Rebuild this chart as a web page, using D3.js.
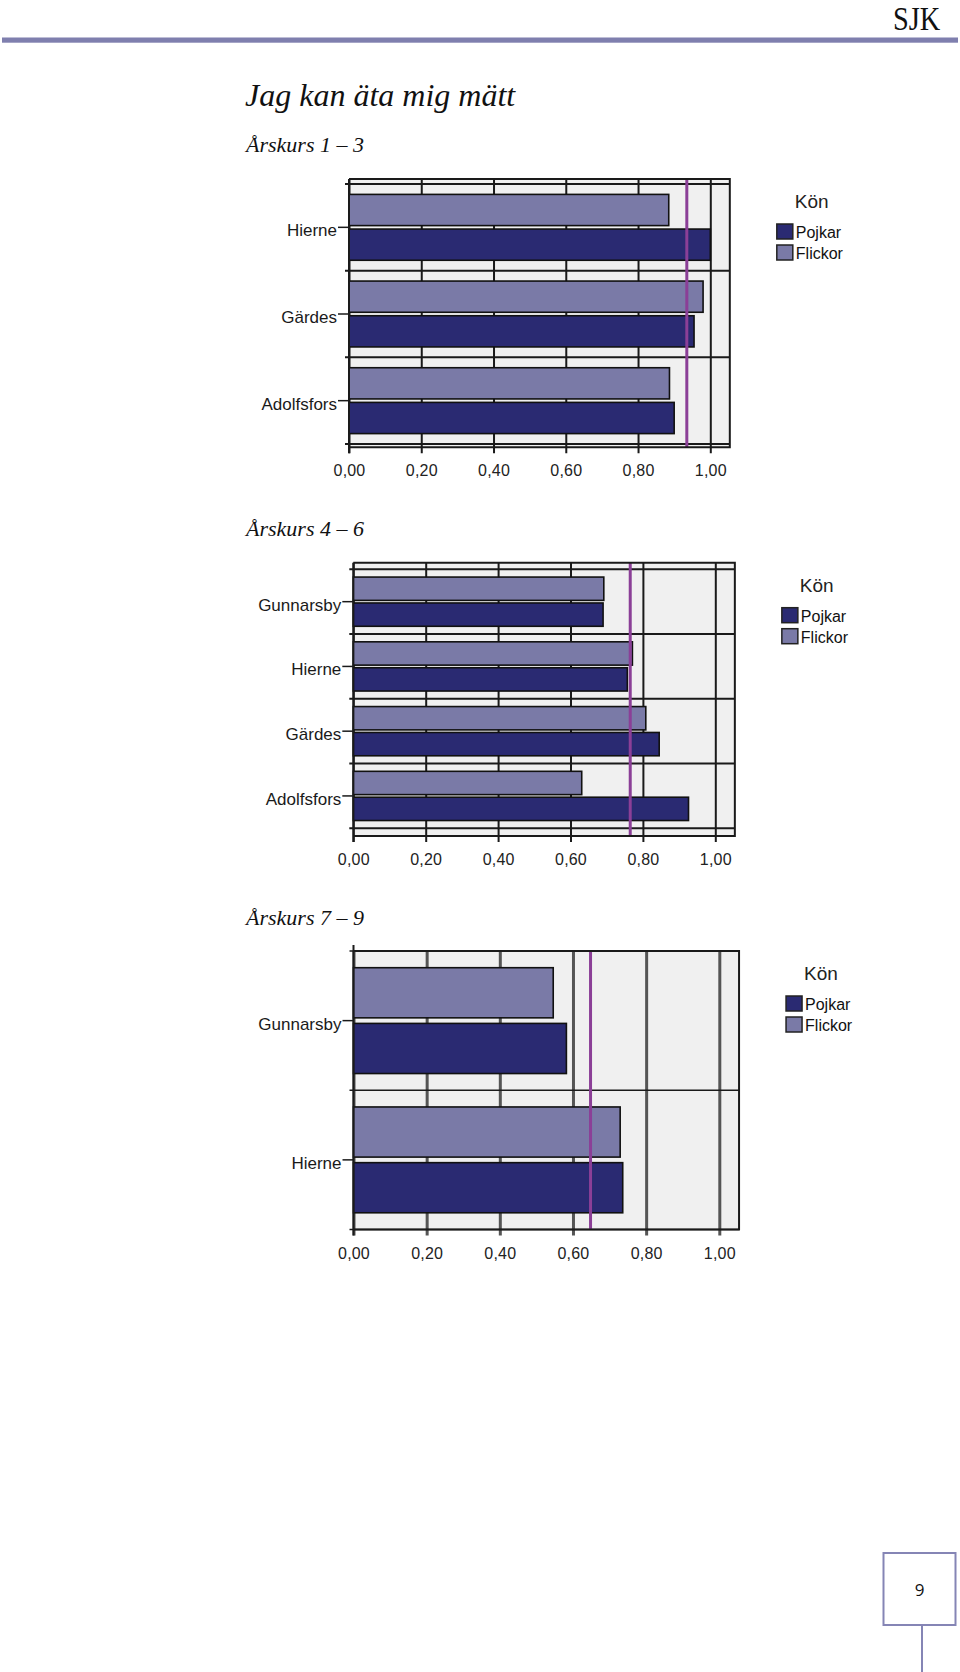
<!DOCTYPE html>
<html>
<head>
<meta charset="utf-8">
<script src="https://cdn.jsdelivr.net/npm/d3@7"></script>
<style>
  html, body { margin: 0; padding: 0; background: #fff; }
  svg { display: block; }
</style>
</head>
<body>
<svg id="page" width="960" height="1672"></svg>
<script>
// ---------- data ----------
const pageTitle = "Jag kan äta mig mätt";
const headerText = "SJK";
const pageNumber = "9";
const legendTitle = "Kön";
const seriesNames = ["Pojkar", "Flickor"];
const gradeTitles = ["Årskurs 1 – 3", "Årskurs 4 – 6", "Årskurs 7 – 9"];

const schools1 = ["Hierne", "Gärdes", "Adolfsfors"];
const pojkar1  = [1.00, 0.955, 0.90];
const flickor1 = [0.885, 0.98, 0.887];
const mean1 = 0.935;

const schools2 = ["Gunnarsby", "Hierne", "Gärdes", "Adolfsfors"];
const pojkar2  = [0.69, 0.757, 0.845, 0.926];
const flickor2 = [0.692, 0.771, 0.808, 0.631];
const mean2 = 0.765;

const schools3 = ["Gunnarsby", "Hierne"];
const pojkar3  = [0.582, 0.736];
const flickor3 = [0.546, 0.729];
const mean3 = 0.648;

const xTicks = [0, 0.2, 0.4, 0.6, 0.8, 1.0];

// ---------- styles ----------
const colPojkar = "#2a2a72";
const colFlickor = "#7a7aa7";
const colMean = "#8b3f97";
const colPlotBg = "#f0f0f0";
const colHeader = "#7f7fae";
const sans = "'Liberation Sans', Arial, sans-serif";
const serif = "'Liberation Serif', 'Times New Roman', serif";

const svg = d3.select("#page");
svg.append("rect").attr("width", 960).attr("height", 1672).attr("fill", "#fff");

// header
svg.append("text")
  .attr("transform", "translate(893,30) scale(0.86,1)")
  .attr("font-family", serif).attr("font-size", 33)
  .attr("fill", "#111").text(headerText);
svg.append("rect").attr("x", 2).attr("y", 37.5).attr("width", 956).attr("height", 5.2)
  .attr("fill", colHeader);

// title
svg.append("text").attr("x", 245).attr("y", 106)
  .attr("font-family", serif).attr("font-style", "italic").attr("font-size", 32)
  .attr("fill", "#111").text(pageTitle);

// footer page number
svg.append("rect").attr("x", 883.5).attr("y", 1553).attr("width", 72).attr("height", 72)
  .attr("fill", "none").attr("stroke", "#8585b5").attr("stroke-width", 2);
svg.append("line").attr("x1", 922).attr("x2", 922).attr("y1", 1625).attr("y2", 1672)
  .attr("stroke", "#8585b5").attr("stroke-width", 2);
svg.append("text").attr("x", 919.5).attr("y", 1596).attr("text-anchor", "middle")
  .attr("font-family", "'Open Sans', 'Noto Sans', sans-serif").attr("font-size", 17)
  .attr("fill", "#111").text(pageNumber);

const fmt = d => d3.format(".2f")(d).replace(".", ",");

function drawChart(cfg) {
  const { title, titleY, schools, pojkar, flickor, mean,
          x0, x1, plotTop, plotBottom, bandTop, bandBottom, style } = cfg;
  const g = svg.append("g");

  // subtitle
  g.append("text").attr("x", 246).attr("y", titleY)
    .attr("font-family", serif).attr("font-style", "italic").attr("font-size", 22)
    .attr("fill", "#111").text(title);

  const x = d3.scaleLinear().domain([0, 1]).range([x0, x1]);
  const plotRight = x(1.054);
  const y = d3.scaleBand().domain(schools).range([bandTop, bandBottom]);
  const bw = y.bandwidth();
  const sub = d3.scaleBand().domain(["Flickor", "Pojkar"])
    .range([0.12 * bw, 0.88 * bw]).paddingInner(0.1);

  // background
  g.append("rect").attr("x", x0).attr("y", plotTop)
    .attr("width", plotRight - x0).attr("height", plotBottom - plotTop)
    .attr("fill", colPlotBg);

  // vertical gridlines + bottom labels via axis
  const xAxis = d3.axisBottom(x).tickValues(xTicks).tickFormat(fmt)
    .tickSize(plotBottom - plotTop + 6).tickSizeOuter(0);
  const gx = g.append("g").attr("transform", `translate(0,${plotTop})`).call(xAxis);
  gx.select(".domain").remove();
  gx.selectAll(".tick line")
    .attr("stroke", style.vColor).attr("stroke-width", style.vWidth);
  gx.selectAll(".tick text")
    .attr("y", plotBottom - plotTop + 29).attr("dy", 0)
    .attr("font-family", sans).attr("font-size", 16)
    .attr("letter-spacing", "0.2px")
    .attr("fill", "#222");

  // horizontal gridlines at band boundaries
  const bounds = schools.map(s => y(s)).concat([bandBottom]);
  g.selectAll(".hgrid").data(bounds).join("line")
    .attr("x1", x0 - 4).attr("x2", plotRight)
    .attr("y1", d => d).attr("y2", d => d)
    .attr("stroke", "#1a1a1a").attr("stroke-width", style.hWidth);

  // bars
  const rows = schools.map((s, i) => ({ s, Pojkar: pojkar[i], Flickor: flickor[i] }));
  const bg = g.selectAll(".school").data(rows).join("g")
    .attr("transform", d => `translate(0,${y(d.s)})`);
  bg.selectAll("rect").data(d => ["Flickor", "Pojkar"].map(k => ({ k, v: d[k] })))
    .join("rect")
    .attr("x", x(0))
    .attr("y", d => sub(d.k))
    .attr("width", d => x(d.v) - x(0))
    .attr("height", sub.bandwidth())
    .attr("fill", d => d.k === "Pojkar" ? colPojkar : colFlickor)
    .attr("stroke", "#111").attr("stroke-width", 1.6);

  // mean line
  g.append("line").attr("x1", x(mean)).attr("x2", x(mean))
    .attr("y1", plotTop).attr("y2", plotBottom)
    .attr("stroke", colMean).attr("stroke-width", 3);

  // plot border (top, right, bottom)
  g.append("path")
    .attr("d", `M${x0},${plotTop}H${plotRight}V${plotBottom}H${x0}`)
    .attr("fill", "none").attr("stroke", "#1a1a1a").attr("stroke-width", 2);

  // left axis
  const yAxis = d3.axisLeft(y).tickSize(11).tickSizeOuter(0).tickPadding(1);
  const gy = g.append("g").attr("transform", `translate(${x0},0)`).call(yAxis);
  gy.select(".domain").remove();
  gy.selectAll(".tick line").attr("stroke", "#1a1a1a").attr("stroke-width", 1.5);
  gy.selectAll(".tick text")
    .attr("font-family", sans).attr("font-size", 17).attr("fill", "#1a1a1a")
    .attr("dy", "0.53em");
  g.append("line").attr("x1", x0).attr("x2", x0)
    .attr("y1", plotTop - (style.axisAbove || 0)).attr("y2", plotBottom + 6)
    .attr("stroke", "#1a1a1a").attr("stroke-width", 2);

  // legend
  const lx = plotRight + 47;
  const lg = g.append("g");
  lg.append("text").attr("x", plotRight + 65).attr("y", plotTop + 29)
    .attr("font-family", sans).attr("font-size", 19).attr("fill", "#222")
    .text(legendTitle);
  seriesNames.forEach((name, i) => {
    const sy = plotTop + 45 + i * 21;
    lg.append("rect").attr("x", lx).attr("y", sy).attr("width", 16).attr("height", 15)
      .attr("fill", name === "Pojkar" ? colPojkar : colFlickor)
      .attr("stroke", "#222").attr("stroke-width", 1.5);
    lg.append("text").attr("x", lx + 19).attr("y", sy + 14)
      .attr("font-family", sans).attr("font-size", 16).attr("fill", "#111")
      .text(name);
  });
}

drawChart({
  title: gradeTitles[0], titleY: 152,
  schools: schools1, pojkar: pojkar1, flickor: flickor1, mean: mean1,
  x0: 349, x1: 710.3, plotTop: 179, plotBottom: 447.3, bandTop: 184, bandBottom: 444,
  style: { vColor: "#1a1a1a", vWidth: 2, hWidth: 2 }
});
drawChart({
  title: gradeTitles[1], titleY: 536,
  schools: schools2, pojkar: pojkar2, flickor: flickor2, mean: mean2,
  x0: 353.3, x1: 715.3, plotTop: 562.7, plotBottom: 836, bandTop: 569.3, bandBottom: 828.3,
  style: { vColor: "#1a1a1a", vWidth: 2, hWidth: 2 }
});
drawChart({
  title: gradeTitles[2], titleY: 925,
  schools: schools3, pojkar: pojkar3, flickor: flickor3, mean: mean3,
  x0: 353.5, x1: 719.3, plotTop: 951, plotBottom: 1229.5, bandTop: 951, bandBottom: 1229.5,
  style: { vColor: "#555", vWidth: 3, hWidth: 1.6, axisAbove: 6 }
});
</script>
</body>
</html>
